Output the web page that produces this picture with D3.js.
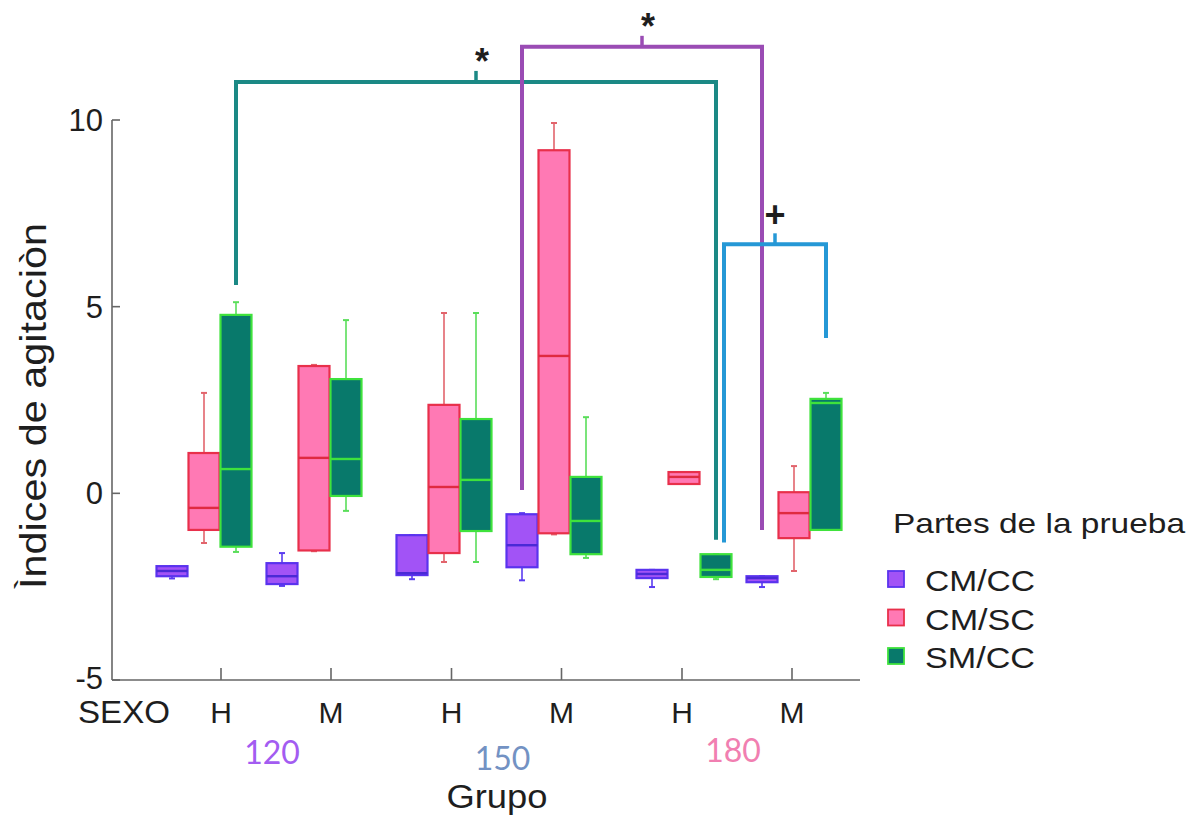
<!DOCTYPE html>
<html>
<head>
<meta charset="utf-8">
<script src="https://cdn.jsdelivr.net/npm/d3@7"></script>
<style>
  body { margin: 0; background: #fff; }
  text { font-family: "Liberation Sans", Arial, sans-serif; fill: #1e1e1e; }
</style>
</head>
<body>
<svg id="chart" width="1190" height="820"></svg>
<script>
// ---- data ----
const groups = ["120", "150", "180"];
const sexes = ["H", "M"];
const series = ["CM/CC", "CM/SC", "SM/CC"];
const yTicks = [10, 5, 0, -5];

// five-number summaries [min, q1, median, q3, max]
// order: 120-H, 120-M, 150-H, 150-M, 180-H, 180-M
const cmcc = [
  [-2.28, -2.22, -2.08, -1.95, -1.95],
  [-2.48, -2.43, -2.22, -1.87, -1.60],
  [-2.30, -2.19, -2.14, -1.12, -1.12],
  [-2.33, -1.98, -1.39, -0.56, -0.53],
  [-2.51, -2.27, -2.16, -2.05, -2.05],
  [-2.51, -2.38, -2.27, -2.22, -2.22]
];
const cmsc = [
  [-1.33, -0.98, -0.39, 1.08, 2.69],
  [-1.55, -1.53, 0.95, 3.41, 3.44],
  [-1.84, -1.60, 0.17, 2.37, 4.83],
  [-1.10, -1.07, 3.68, 9.19, 9.92],
  [0.25, 0.25, 0.44, 0.57, 0.57],
  [-2.08, -1.20, -0.53, 0.03, 0.73]
];
const smcc = [
  [-1.57, -1.43, 0.65, 4.78, 5.12],
  [-0.47, -0.07, 0.92, 3.06, 4.64],
  [-1.84, -1.01, 0.36, 1.99, 4.83],
  [-1.73, -1.63, -0.74, 0.44, 2.04],
  [-2.30, -2.24, -2.05, -1.63, -1.63],
  [-0.98, -0.98, 2.42, 2.53, 2.69]
];

// significance brackets: endpoints (group, sex, part), bar level and leg ends in index units
const comparisons = [
  { a: ["120", "H", "SM/CC"], b: ["180", "H", "SM/CC"], top: 11.02, endA: 5.58, endB: -1.24, mark: "*" },
  { a: ["150", "M", "CM/CC"], b: ["180", "M", "CM/CC"], top: 11.96, endA: 0.09, endB: -0.98, mark: "*" },
  { a: ["180", "H", "SM/CC"], b: ["180", "M", "SM/CC"], top: 6.67, endA: -1.32, endB: 4.16, mark: "+" }
];
const bracketColors = ["#1b8985", "#9a4cb4", "#2598d6"];

// ---- styles ----
const partStyle = {
  "CM/CC": { fill: "#a253f6", stroke: "#5a33ee", median: "#4a2ad6", whisker: "#5a3cf0" },
  "CM/SC": { fill: "#ff79b4", stroke: "#e8304b", median: "#df2a40", whisker: "#e2646c" },
  "SM/CC": { fill: "#08796b", stroke: "#3fe23c", median: "#3fe23c", whisker: "#5ade5a" }
};
const groupColors = { "120": "#a35cf1", "150": "#7392c3", "180": "#f17fb1" };
const groupLabelBaseline = { "120": 764, "150": 770, "180": 762 };

const svg = d3.select("#chart");

// ---- scales ----
const y = d3.scaleLinear().domain([-5, 10]).range([680, 120]);
const xGroup = d3.scalePoint().domain(groups).range([259, 739]);
const xSex = d3.scalePoint().domain(sexes).range([-55, 55]);
const xPart = d3.scaleBand().domain(series).range([-48, 48]);
const xGroupTick = d3.scalePoint().domain(groups).range([276, 737]);
const xSexTick = d3.scalePoint().domain(sexes).range([-55, 55]);

const boxW = 31;
const cx = (g, s, p) => xGroup(g) + xSex(s) + xPart(p) + xPart.bandwidth() / 2;

const cells = groups.flatMap(g => sexes.map(s => ({ g, s })));
const valuesBy = { "CM/CC": cmcc, "CM/SC": cmsc, "SM/CC": smcc };
const boxes = series.flatMap(p => valuesBy[p].map((v, i) => ({
  p, g: cells[i].g, s: cells[i].s,
  min: v[0], q1: v[1], med: v[2], q3: v[3], max: v[4]
})));

// ---- axes ----
const axis = svg.append("g").attr("stroke", "#666").attr("stroke-width", 1.6);
axis.append("line").attr("x1", 112).attr("x2", 112).attr("y1", y(10)).attr("y2", y(-5));
axis.append("line").attr("x1", 112).attr("x2", 860).attr("y1", y(-5)).attr("y2", y(-5));
axis.selectAll(".yt").data(yTicks).join("line")
  .attr("x1", 112).attr("x2", 120).attr("y1", d => y(d)).attr("y2", d => y(d));
axis.selectAll(".xt").data(cells).join("line")
  .attr("x1", d => xGroupTick(d.g) + xSexTick(d.s)).attr("x2", d => xGroupTick(d.g) + xSexTick(d.s))
  .attr("y1", y(-5)).attr("y2", y(-5) - 12);

svg.selectAll(".ylab").data(yTicks).join("text")
  .attr("x", 103).attr("y", d => y(d) - (d === -5 ? 2 : 0)).attr("dy", "0.36em")
  .attr("text-anchor", "end").attr("font-size", 31)
  .text(d => d);

svg.append("text").attr("x", 78).attr("y", 723).attr("font-size", 32)
  .attr("textLength", 92).attr("lengthAdjust", "spacingAndGlyphs").text("SEXO");
svg.selectAll(".xlab").data(cells).join("text")
  .attr("x", d => xGroupTick(d.g) + xSexTick(d.s)).attr("y", 723)
  .attr("text-anchor", "middle").attr("font-size", 30)
  .text(d => d.s);

svg.selectAll(".glab").data(groups).join("text")
  .attr("x", d => xGroupTick(d) - 4).attr("y", d => groupLabelBaseline[d])
  .attr("text-anchor", "middle")
  .style("font-family", "Lato, 'Open Sans', sans-serif")
  .style("fill", d => groupColors[d])
  .attr("font-size", 32)
  .text(d => d);

svg.append("text").attr("x", 497).attr("y", 808).attr("text-anchor", "middle")
  .attr("font-size", 33).attr("textLength", 101).attr("lengthAdjust", "spacingAndGlyphs")
  .text("Grupo");

svg.append("text").attr("transform", "translate(46,406) rotate(-90)")
  .attr("text-anchor", "middle").attr("font-size", 37)
  .attr("textLength", 366).attr("lengthAdjust", "spacingAndGlyphs")
  .text("Ìndices de agitaciòn");

// ---- box plots ----
const gBox = svg.append("g");
const bx = gBox.selectAll("g.box").data(boxes).join("g").attr("class", "box");

// whiskers
bx.append("line")
  .attr("x1", d => cx(d.g, d.s, d.p)).attr("x2", d => cx(d.g, d.s, d.p))
  .attr("y1", d => y(d.max)).attr("y2", d => y(d.q3))
  .attr("stroke", d => partStyle[d.p].whisker).attr("stroke-width", 1.6);
bx.append("line")
  .attr("x1", d => cx(d.g, d.s, d.p)).attr("x2", d => cx(d.g, d.s, d.p))
  .attr("y1", d => y(d.q1)).attr("y2", d => y(d.min))
  .attr("stroke", d => partStyle[d.p].whisker).attr("stroke-width", 1.6);
bx.selectAll("line.cap").data(d => [{ d, v: d.max }, { d, v: d.min }]).join("line")
  .attr("class", "cap")
  .attr("x1", e => cx(e.d.g, e.d.s, e.d.p) - 3).attr("x2", e => cx(e.d.g, e.d.s, e.d.p) + 3)
  .attr("y1", e => y(e.v)).attr("y2", e => y(e.v))
  .attr("stroke", e => partStyle[e.d.p].whisker).attr("stroke-width", 2);

// boxes
bx.append("rect")
  .attr("x", d => cx(d.g, d.s, d.p) - boxW / 2).attr("width", boxW)
  .attr("y", d => y(d.q3)).attr("height", d => Math.max(y(d.q1) - y(d.q3), 1))
  .attr("fill", d => partStyle[d.p].fill)
  .attr("stroke", d => partStyle[d.p].stroke).attr("stroke-width", 2.2);

// medians
bx.append("line")
  .attr("x1", d => cx(d.g, d.s, d.p) - boxW / 2).attr("x2", d => cx(d.g, d.s, d.p) + boxW / 2)
  .attr("y1", d => y(d.med)).attr("y2", d => y(d.med))
  .attr("stroke", d => partStyle[d.p].median).attr("stroke-width", 2.4);

// ---- significance brackets ----
const usedLegs = [];
const legX = k => {
  let x = cx(k[0], k[1], k[2]);
  if (usedLegs.some(u => Math.abs(u - x) < 1)) x += 8;
  usedLegs.push(x);
  return x;
};
comparisons.forEach((c, i) => {
  const xa = legX(c.a), xb = legX(c.b);
  const yt = y(c.top);
  const mid = (xa + xb) / 2;
  const col = bracketColors[i];
  svg.append("path")
    .attr("d", `M${xa},${y(c.endA)}V${yt}H${xb}V${y(c.endB)}`)
    .attr("fill", "none").attr("stroke", col).attr("stroke-width", 4);
  svg.append("line").attr("x1", mid).attr("x2", mid).attr("y1", yt).attr("y2", yt - 11)
    .attr("stroke", col).attr("stroke-width", 3.5);
  const star = c.mark === "*";
  svg.append("text").attr("x", mid + (star ? 6 : 0)).attr("y", star ? yt - 8 : yt - 17)
    .attr("text-anchor", "middle").attr("font-size", 36).attr("font-weight", "bold")
    .text(c.mark);
});

// ---- legend ----
const leg = svg.append("g");
leg.append("text").attr("x", 893).attr("y", 533).attr("font-size", 28)
  .attr("textLength", 292).attr("lengthAdjust", "spacingAndGlyphs")
  .text("Partes de la prueba");
const li = leg.selectAll("g.item").data(series).join("g").attr("class", "item")
  .attr("transform", (d, i) => `translate(0,${i * 38.5})`);
li.append("rect").attr("x", 888).attr("y", 571).attr("width", 16).attr("height", 16)
  .attr("fill", d => partStyle[d].fill).attr("stroke", d => partStyle[d].stroke).attr("stroke-width", 1.8);
li.append("text").attr("x", 925).attr("y", 591).attr("font-size", 29)
  .attr("textLength", 110).attr("lengthAdjust", "spacingAndGlyphs")
  .text(d => d);
</script>
</body>
</html>
